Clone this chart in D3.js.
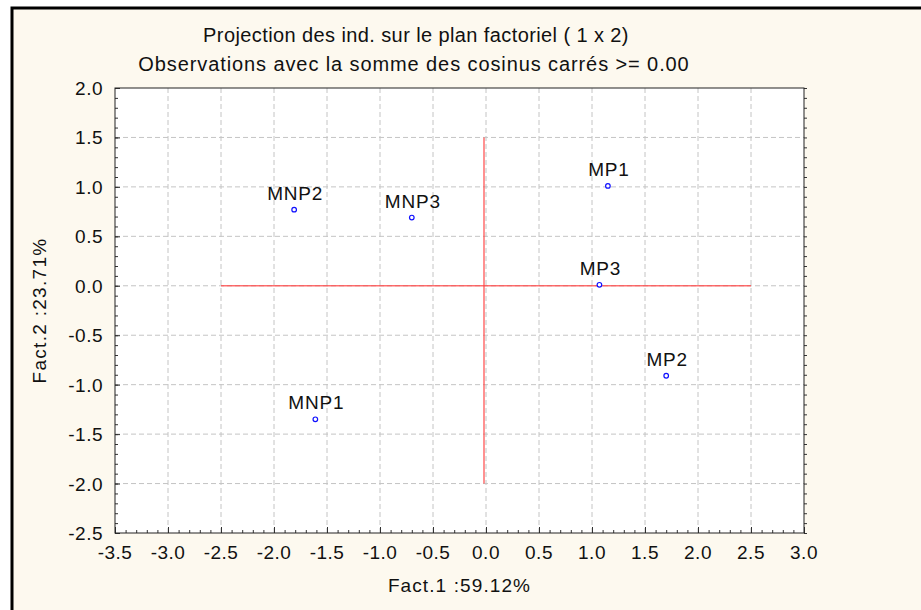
<!DOCTYPE html>
<html lang="fr">
<head>
    <meta charset="UTF-8">
    <title>Projection des ind. sur le plan factoriel</title>
    <script src="https://d3js.org/d3.v7.min.js"></script>
    <style>
        body {
            margin: 0;
            background-color: white;
            font-family: Arial, "Liberation Sans", sans-serif;
        }
        svg text {
            fill: #111;
        }
    </style>
</head>
<body>
    <div id="chart"></div>
    <script>
        // Observations
        const names = ["MNP1", "MNP2", "MNP3", "MP1", "MP2", "MP3"];
        const fact1 = [-1.61, -1.81, -0.70, 1.15, 1.70, 1.07];
        const fact2 = [-1.35, 0.77, 0.69, 1.01, -0.91, 0.01];

        // Axis ticks
        const xTicks = [-3.5, -3.0, -2.5, -2.0, -1.5, -1.0, -0.5, 0.0, 0.5, 1.0, 1.5, 2.0, 2.5, 3.0];
        const yTicks = [-2.5, -2.0, -1.5, -1.0, -0.5, 0.0, 0.5, 1.0, 1.5, 2.0];

        // Red reference lines at the origin
        const hLineX = [-2.5, 2.5];
        const vLineY = [-2.0, 1.5];

        const title1 = "Projection des ind. sur le plan factoriel ( 1 x  2)";
        const title2 = "Observations avec la somme des cosinus carrés >= 0.00";
        const xTitle = "Fact.1 :59.12%";
        const yTitle = "Fact.2 :23.71%";

        const W = 921, H = 610;
        const margin = {top: 88, right: 117, bottom: 77, left: 115};
        const width = W - margin.left - margin.right,
              height = H - margin.top - margin.bottom;

        const svg = d3.select("#chart")
          .append("svg")
            .attr("width", W)
            .attr("height", H);

        // Outer frame
        svg.append("rect")
            .attr("x", 12).attr("y", 8)
            .attr("width", W + 20).attr("height", H + 20)
            .attr("fill", "#fdf9ef")
            .attr("stroke", "#000")
            .attr("stroke-width", 3);

        const g = svg.append("g")
            .attr("transform", `translate(${margin.left},${margin.top})`);

        const x = d3.scaleLinear().domain([-3.5, 3.0]).range([0, width]);
        const y = d3.scaleLinear().domain([-2.5, 2.0]).range([height, 0]);

        g.append("rect")
            .attr("width", width).attr("height", height)
            .attr("fill", "white");

        // Dashed grid
        g.append("g").selectAll("line")
            .data(xTicks.slice(1, -1))
            .join("line")
            .attr("x1", d => x(d)).attr("x2", d => x(d))
            .attr("y1", 0).attr("y2", height)
            .attr("stroke", "#c4c4c4")
            .attr("stroke-dasharray", "5,3");

        g.append("g").selectAll("line")
            .data(yTicks.slice(1, -1))
            .join("line")
            .attr("y1", d => y(d)).attr("y2", d => y(d))
            .attr("x1", 0).attr("x2", width)
            .attr("stroke", "#c4c4c4")
            .attr("stroke-dasharray", "5,3");

        // Reference lines
        g.append("line")
            .attr("x1", x(hLineX[0])).attr("x2", x(hLineX[1]))
            .attr("y1", y(0)).attr("y2", y(0))
            .attr("stroke", "#ff4848").attr("stroke-opacity", 0.8)
            .attr("stroke-width", 1.5);

        g.append("line")
            .attr("x1", x(0) - 2).attr("x2", x(0) - 2)
            .attr("y1", y(vLineY[0])).attr("y2", y(vLineY[1]))
            .attr("stroke", "#ff4848").attr("stroke-opacity", 0.8)
            .attr("stroke-width", 1.5);

        // Axes with minor ticks
        const minorX = d3.range(-35, 31).map(d => d / 10);
        const minorY = d3.range(-25, 21).map(d => d / 10);

        g.append("g")
            .attr("transform", `translate(0,${height})`)
            .call(d3.axisTop(x).tickValues(minorX).tickSize(3).tickFormat(""))
            .call(a => a.select(".domain").remove());
        g.append("g")
            .attr("transform", `translate(0,${height})`)
            .call(d3.axisTop(x).tickValues(xTicks).tickSize(6).tickFormat(""))
            .call(a => a.select(".domain").remove());

        g.append("g")
            .call(d3.axisRight(y).tickValues(minorY).tickSize(3).tickFormat(""))
            .call(a => a.select(".domain").remove());
        g.append("g")
            .call(d3.axisRight(y).tickValues(yTicks).tickSize(5).tickFormat(""))
            .call(a => a.select(".domain").remove());

        g.append("g")
            .attr("transform", `translate(${width},0)`)
            .call(d3.axisRight(y).tickValues(minorY).tickSize(3).tickFormat(""))
            .call(a => a.select(".domain").remove());

        g.selectAll(".tick line").attr("stroke", "#333");

        g.append("rect")
            .attr("width", width).attr("height", height)
            .attr("fill", "none")
            .attr("stroke", "#222")
            .attr("stroke-width", 1);

        // Tick labels
        g.append("g").selectAll("text")
            .data(xTicks)
            .join("text")
            .attr("x", d => x(d))
            .attr("y", height + 26)
            .attr("text-anchor", "middle")
            .attr("font-size", 19)
            .attr("letter-spacing", 0.5)
            .text(d => d.toFixed(1));

        g.append("g").selectAll("text")
            .data(yTicks)
            .join("text")
            .attr("x", -12)
            .attr("y", d => y(d) + 7)
            .attr("text-anchor", "end")
            .attr("font-size", 19)
            .attr("letter-spacing", 0.5)
            .text(d => d.toFixed(1));

        // Points and labels
        const obs = names.map((n, i) => ({name: n, f1: fact1[i], f2: fact2[i]}));

        g.append("g").selectAll("circle")
            .data(obs)
            .join("circle")
            .attr("cx", d => x(d.f1))
            .attr("cy", d => y(d.f2))
            .attr("r", 2.3)
            .attr("fill", "white")
            .attr("stroke", "#1010ff")
            .attr("stroke-width", 1.2);

        g.append("g").selectAll("text")
            .data(obs)
            .join("text")
            .attr("x", d => x(d.f1) + 1)
            .attr("y", d => y(d.f2) - 10)
            .attr("text-anchor", "middle")
            .attr("font-size", 19)
            .attr("letter-spacing", 0.8)
            .text(d => d.name);

        // Titles
        svg.append("text")
            .attr("x", 416).attr("y", 42)
            .attr("text-anchor", "middle")
            .attr("font-size", 20)
            .attr("letter-spacing", 0.4)
            .text(title1);

        svg.append("text")
            .attr("x", 414).attr("y", 71)
            .attr("text-anchor", "middle")
            .attr("font-size", 20)
            .attr("letter-spacing", 0.9)
            .text(title2);

        svg.append("text")
            .attr("x", margin.left + width / 2).attr("y", 592)
            .attr("text-anchor", "middle")
            .attr("font-size", 19)
            .attr("letter-spacing", 1.1)
            .text(xTitle);

        svg.append("text")
            .attr("transform", `translate(46,${margin.top + height / 2}) rotate(-90)`)
            .attr("text-anchor", "middle")
            .attr("font-size", 19)
            .attr("letter-spacing", 1.3)
            .text(yTitle);
    </script>
</body>
</html>
